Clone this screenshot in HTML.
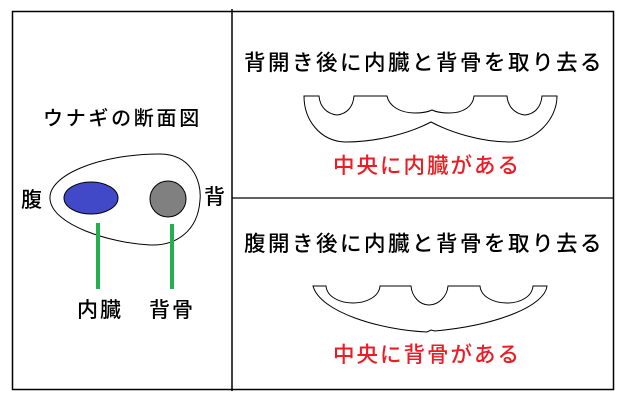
<!DOCTYPE html>
<html><head><meta charset="utf-8"><style>
html,body{margin:0;padding:0;background:#fff;}
svg{display:block;}
text{font-family:"Liberation Sans","Noto Sans CJK JP",sans-serif;font-weight:500;}
</style></head><body>
<svg width="624" height="400" viewBox="0 0 624 400" xmlns="http://www.w3.org/2000/svg">
<rect x="12.5" y="11.5" width="601" height="378" fill="none" stroke="#000" stroke-width="1.5"/>
<line x1="232" y1="9" x2="232" y2="391" stroke="#000" stroke-width="1.5"/>
<line x1="232" y1="198" x2="613" y2="198" stroke="#000" stroke-width="1.2"/>

<text x="43" y="125" font-size="20" letter-spacing="2.7">ウナギの断面図</text>
<path d="M50,199 C48,175 100,154 160,154 C190,154 202,180 200,200 C198,232 175,246 150,245 C110,243 52,225 50,199 Z" fill="none" stroke="#000" stroke-width="1"/>
<ellipse cx="91" cy="198" rx="27" ry="16" fill="#4149c9" stroke="#000" stroke-width="1"/>
<circle cx="168" cy="199" r="18" fill="#808080" stroke="#000" stroke-width="1"/>
<line x1="98" y1="223" x2="98" y2="289" stroke="#22b14c" stroke-width="4"/>
<line x1="172" y1="224" x2="172" y2="289" stroke="#22b14c" stroke-width="4"/>
<text x="21" y="207" font-size="21">腹</text>
<text x="204" y="204" font-size="21">背</text>
<text x="77" y="317" font-size="21" letter-spacing="2">内臓</text>
<text x="149" y="317" font-size="21" letter-spacing="2">背骨</text>

<text x="244" y="70" font-size="21.5" letter-spacing="2.5">背開き後に内臓と背骨を取り去る</text>
<path d="M304,96 L319,96 C320,108 328,114 337,115 C346,114 353,108 354,96 L387,96 C389,106 400,113 415,113 C424,113 430,111 432,110 C434,111 440,113 449,113 C464,113 473,106 474,96 L507,96 C508,108 516,114 525,115 C534,114 541,108 542,96 L557,96 C557,120 535,142 510,142 C480,142 450,132 431,122 C412,132 380,142 345,142 C320,141 304,120 304,96 Z" fill="none" stroke="#000" stroke-width="1"/>
<text x="333" y="173" font-size="21.5" letter-spacing="2" fill="#ed1c24">中央に内臓がある</text>

<text x="244" y="251" font-size="21.5" letter-spacing="2.5">腹開き後に内臓と背骨を取り去る</text>
<path d="M313,286 L326,286 C327,297 340,303 353,303 C366,303 379,297 380,286 L411,286 C412,297 420,305 429,305 C438,305 447,297 448,286 L480,286 C481,297 494,303 507,303 C520,303 532,297 533,286 L547,286 C545,305 500,325 435,331 L431,330 L427,332 C380,330 320,312 313,286 Z" fill="none" stroke="#000" stroke-width="1"/>
<text x="333" y="362" font-size="21.5" letter-spacing="2" fill="#ed1c24">中央に背骨がある</text>
</svg>
</body></html>
